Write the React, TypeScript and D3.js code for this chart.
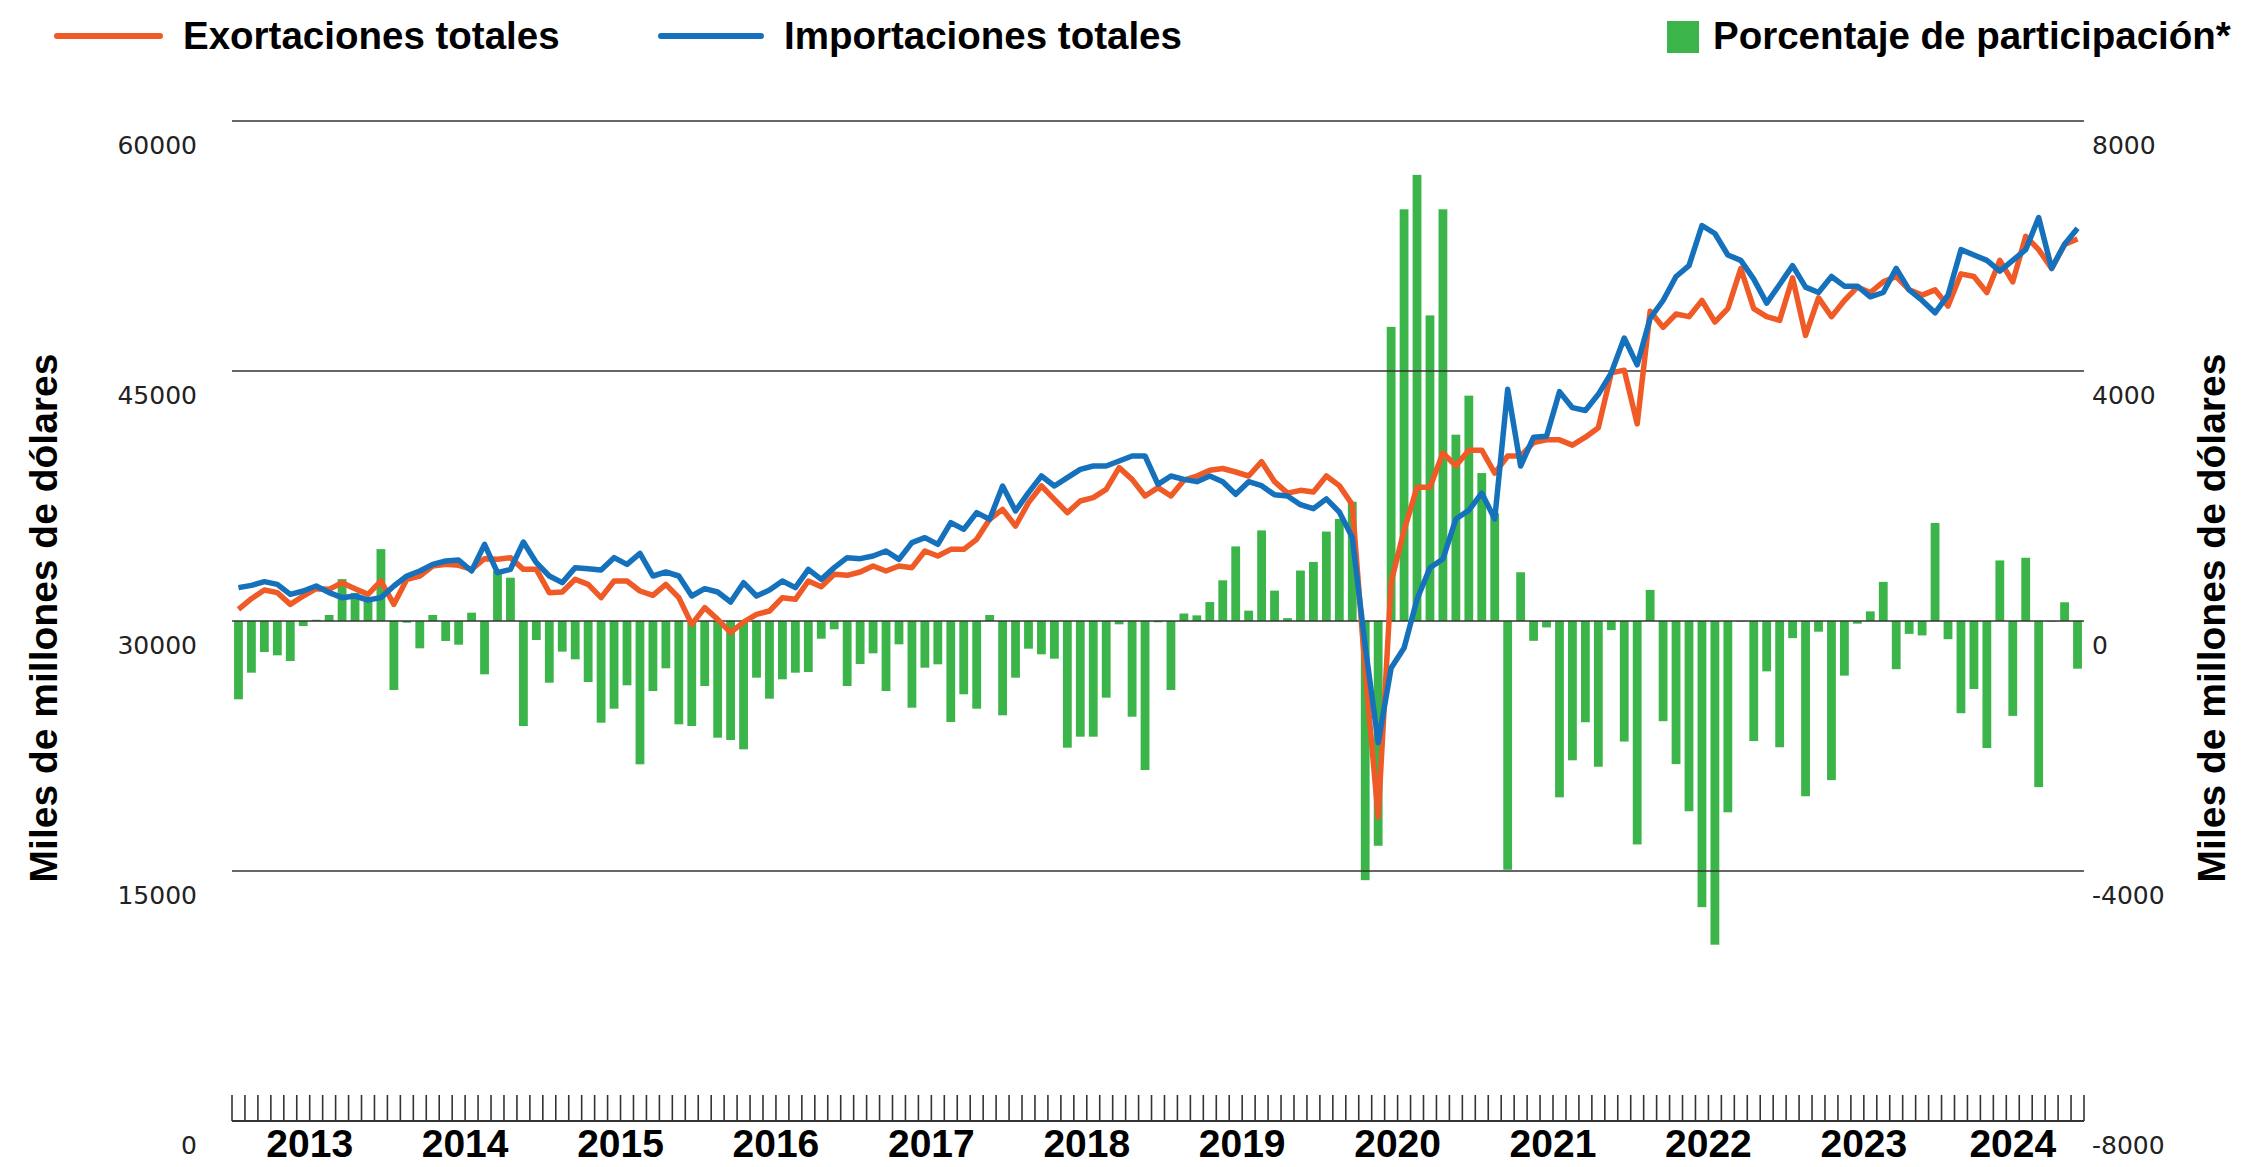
import React from "react";
import * as d3 from "d3";

// monthly series, Jan 2013 - Nov 2024
const years = [2013, 2014, 2015, 2016, 2017, 2018, 2019, 2020, 2021, 2022, 2023, 2024];

const exportsTotal = [
  30700, 31340, 31860, 31700, 31000, 31500, 31940, 31900, 32300, 31940, 31600, 32400,
  31000, 32500, 32700, 33300, 33400, 33340, 33100, 33740, 33700, 33800, 33100, 33100,
  31700, 31740, 32500, 32200, 31400, 32400, 32400, 31800, 31540, 32200, 31400, 29800,
  30800, 30100, 29300, 29940, 30400, 30600, 31400, 31300, 32400, 32060, 32800, 32740,
  32940, 33300, 33000, 33300, 33200, 34200, 33900, 34300, 34300, 34900, 36100, 36700,
  35700, 37100, 38100, 37300, 36500, 37200, 37400, 37900, 39200, 38500, 37500, 38000,
  37500, 38450, 38700, 39050, 39150, 38940, 38700, 39560, 38360, 37670, 37840, 37740,
  38700, 38120, 36980, 27000, 18240, 32340, 35440, 38020, 38020, 40080, 39320, 40250,
  40250, 38870, 39900, 39900, 40700, 40870, 40870, 40550, 41030, 41600, 44890, 45050,
  41830, 48580, 47620, 48420, 48260, 49230, 47940, 48740, 51150, 48740, 48260, 48040,
  50590, 47140, 49390, 48260, 49230, 50030, 49710, 50350, 50670, 49870, 49550, 49870,
  48900, 50830, 50670, 49710, 51640, 50350, 53080, 52280, 51150, 52600, 52920,
];

const importsTotal = [
  32000, 32140, 32360, 32200, 31600, 31800, 32100, 31700, 31400, 31500, 31260, 31400,
  32100, 32700, 33000, 33400, 33600, 33660, 33000, 34600, 32900, 33100, 34740, 33500,
  32700, 32300, 33200, 33140, 33060, 33800, 33400, 34060, 32700, 32940, 32700, 31500,
  31940, 31740, 31140, 32300, 31500, 31860, 32400, 32000, 33100, 32500, 33200, 33800,
  33740, 33900, 34200, 33700, 34700, 35000, 34600, 35900, 35500, 36500, 36100, 38100,
  36600, 37700, 38700, 38100, 38600, 39100, 39300, 39300, 39600, 39900, 39900, 38200,
  38700, 38500, 38360, 38700, 38360, 37600, 38360, 38120, 37570, 37500, 36980, 36740,
  37330, 36540, 35020, 28500, 22700, 27180, 28380, 31300, 33200, 33720, 36120, 36640,
  37670, 36120, 43900, 39300, 41030, 41090, 43760, 42800, 42630, 43600, 44890, 46980,
  45370, 48160, 49230, 50670, 51320, 53730, 53250, 51960, 51640, 50510, 49070, 50190,
  51320, 50030, 49710, 50670, 50090, 50090, 49450, 49710, 51160, 49870, 49230, 48490,
  49550, 52280, 51960, 51640, 50990, 51640, 52280, 54210, 51160, 52600, 53570,
];

const participation = [
  -1253, -827, -496, -549, -640, -80, 20, 96, 670, 450, 350, 1150,
  -1104, -27, -437, 96, -320, -379, 133, -853, 800, 693, -1680, -304,
  -987, -490, -613, -976, -1627, -1403, -1029, -2293, -1120, -757, -1653, -1680,
  -1040, -1867, -1904, -2053, -907, -1243, -933, -827, -816, -283, -133, -1040,
  -688, -517, -1120, -373, -1387, -747, -693, -1616, -1173, -1403, 96, -1509,
  -907, -443, -533, -603, -2027, -1851, -1851, -1227, -53, -1531, -2384, -20,
  -1104, 120, 90, 303, 651, 1193, 165, 1450, 486, 46, 807, 945,
  1431, 1633, 1908, -4147, -3596, 4706, 6587, 7138, 4890, 6587, 2981, 3606,
  2367, 1724, -3980, 780, -317, -103, -2821, -2229, -1620, -2332, -146, -1929,
  -3575, 497, -1603, -2289, -3044, -4578, -5179, -3061, -10, -1921, -806, -2020,
  -274, -2804, -171, -2546, -874, -43, 154, 626, -771, -206, -231, 1569,
  -291, -1475, -1089, -2032, 969, -1518, 1012, -2658, -10, 300, -763,
];

const leftTicks = [0, 15000, 30000, 45000, 60000];
const rightTicks = [-8000, -4000, 0, 4000, 8000];

const ORANGE = "#ef5a26";
const BLUE = "#1571bc";
const GREEN = "#3bb54a";
const BOLD = "'Liberation Sans', Arial, sans-serif";
const NUM = "'DejaVu Sans', sans-serif";

const W = 2244;
const H = 1167;
const X0 = 232;
const X1 = 2084;
const TOP = 121;
const BOTTOM = 1121;

export default function App() {
  const months = years
    .flatMap((y) => d3.range(12).map((m) => `${y}-${m + 1}`))
    .slice(0, exportsTotal.length);

  const x = d3
    .scaleBand<string>()
    .domain(months)
    .range([X0, X1])
    .paddingInner(0.32)
    .paddingOuter(0.16);
  const yL = d3.scaleLinear().domain([0, 60000]).range([BOTTOM, TOP]);
  const yR = d3.scaleLinear().domain([-8000, 8000]).range([BOTTOM, TOP]);

  const cx = (i: number) => (x(months[i]) as number) + x.bandwidth() / 2;
  const line = d3
    .line<number>()
    .x((_, i) => cx(i))
    .y((d) => yL(d));

  const step = x.step();
  const ticks = d3.range(months.length + 1).map((k) => X0 + k * step);

  return (
    <svg
      width={W}
      height={H}
      style={{ position: "absolute", left: 0, top: 0, background: "#fff" }}
    >
      {/* legend */}
      <line x1={57} x2={160} y1={36} y2={36} stroke={ORANGE} strokeWidth={6} strokeLinecap="round" />
      <text x={183} y={49} fontFamily={BOLD} fontWeight="bold" fontSize={38.5}>
        Exortaciones totales
      </text>
      <line x1={661} x2={761} y1={36} y2={36} stroke={BLUE} strokeWidth={6} strokeLinecap="round" />
      <text x={784} y={49} fontFamily={BOLD} fontWeight="bold" fontSize={38.5}>
        Importaciones totales
      </text>
      <rect x={1667} y={21} width={32} height={32} fill={GREEN} />
      <text x={1713} y={49} fontFamily={BOLD} fontWeight="bold" fontSize={38.5}>
        Porcentaje de participación*
      </text>

      {/* bars */}
      {participation.map((v, i) => (
        <rect
          key={i}
          x={x(months[i])}
          width={x.bandwidth()}
          y={Math.min(yR(v), yR(0))}
          height={Math.abs(yR(v) - yR(0))}
          fill={GREEN}
        />
      ))}

      {/* grid */}
      {leftTicks
        .filter((t) => t > 0)
        .map((t) => (
          <line key={t} x1={X0} x2={X1} y1={yL(t)} y2={yL(t)} stroke="#333" strokeWidth={1.6} />
        ))}
      <line x1={X0} x2={X1} y1={BOTTOM} y2={BOTTOM} stroke="#333" strokeWidth={2} />
      {ticks.map((t, k) => (
        <line key={k} x1={t} x2={t} y1={1095} y2={BOTTOM} stroke="#333" strokeWidth={1.6} />
      ))}

      {/* lines */}
      <path d={line(exportsTotal) ?? ""} fill="none" stroke={ORANGE} strokeWidth={5.5} strokeLinejoin="round" />
      <path d={line(importsTotal) ?? ""} fill="none" stroke={BLUE} strokeWidth={5.5} strokeLinejoin="round" />

      {/* axis labels */}
      {leftTicks.map((t) => (
        <text
          key={t}
          x={197}
          y={yL(t) + 24}
          textAnchor="end"
          dominantBaseline="central"
          fontFamily={NUM}
          fontSize={25}
          fill="#222"
        >
          {t}
        </text>
      ))}
      {rightTicks.map((t) => (
        <text
          key={t}
          x={2092}
          y={yR(t) + 24}
          textAnchor="start"
          dominantBaseline="central"
          fontFamily={NUM}
          fontSize={25}
          fill="#222"
        >
          {t}
        </text>
      ))}
      {years.map((y, j) => {
        const n = Math.min(12, months.length - j * 12);
        return (
          <text
            key={y}
            x={X0 + step * (j * 12 + n / 2)}
            y={1157}
            textAnchor="middle"
            fontFamily={BOLD}
            fontWeight="bold"
            fontSize={39}
          >
            {y}
          </text>
        );
      })}

      <text
        transform="translate(57,618) rotate(-90)"
        textAnchor="middle"
        fontFamily={BOLD}
        fontWeight="bold"
        fontSize={39}
      >
        Miles de millones de dólares
      </text>
      <text
        transform="translate(2225,618) rotate(-90)"
        textAnchor="middle"
        fontFamily={BOLD}
        fontWeight="bold"
        fontSize={39}
      >
        Miles de millones de dólares
      </text>
    </svg>
  );
}
